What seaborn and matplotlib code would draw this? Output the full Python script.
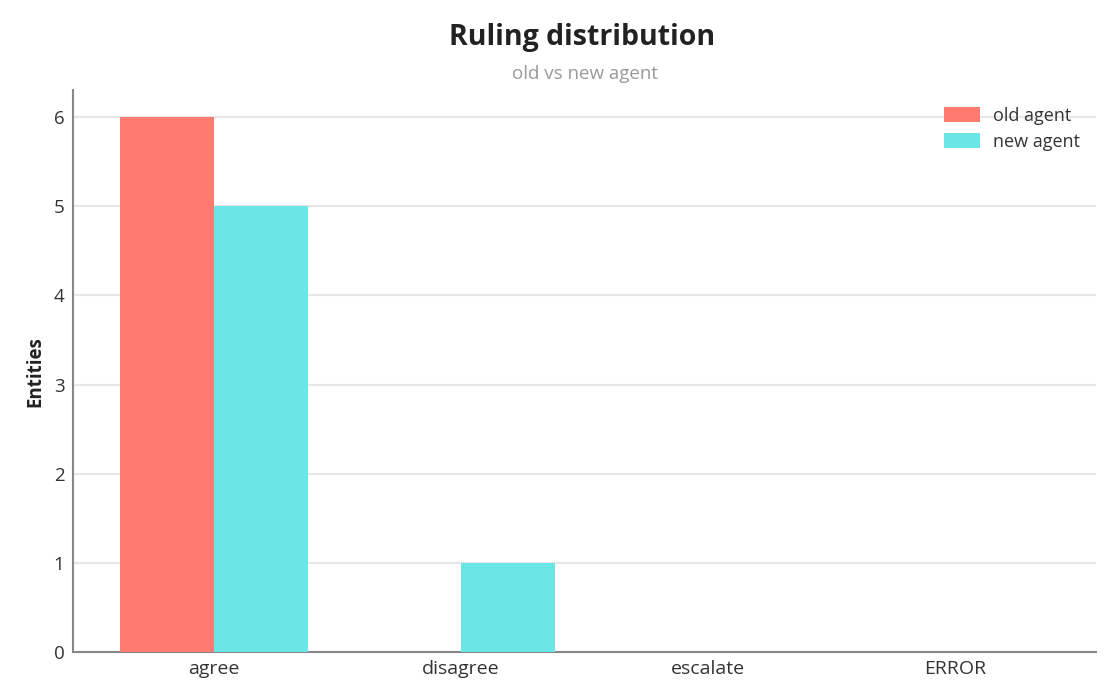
import pandas as pd
import seaborn as sns
import matplotlib.pyplot as plt

# data
categories = ["agree", "disagree", "escalate", "ERROR"]
old_agent = [6, 0, 0, 0]
new_agent = [5, 1, 0, 0]
series_names = ["old agent", "new agent"]
colors = ["#FF7B6F", "#6AE6E6"]

df = pd.DataFrame({
    "ruling": categories * 2,
    "count": old_agent + new_agent,
    "agent": [series_names[0]] * 4 + [series_names[1]] * 4,
})

sns.set_theme(style="white")
plt.rcParams["font.family"] = ["Open Sans", "DejaVu Sans"]

fig = plt.figure(figsize=(11.2, 7), dpi=100)
ax = fig.add_axes([0.065, 0.0686, 0.914, 0.8024])

sns.barplot(data=df, x="ruling", y="count", hue="agent", order=categories,
            hue_order=series_names, palette=colors, width=0.76, gap=0,
            saturation=1, linewidth=0, ax=ax, zorder=3)

ax.set_ylim(0, 6.3)
ax.set_xlim(-0.57, 3.57)
ax.set_yticks(range(0, 7))
ax.yaxis.grid(True, color="#e6e6e6", linewidth=1.5, zorder=0)
ax.set_axisbelow(True)
ax.tick_params(axis="both", length=0, colors="#333333", pad=6)
ax.tick_params(axis="x", labelsize=14)
ax.tick_params(axis="y", labelsize=13.5)

for side in ["top", "right"]:
    ax.spines[side].set_visible(False)
for side in ["left", "bottom"]:
    ax.spines[side].set_color("#888888")
    ax.spines[side].set_linewidth(1.5)

ax.set_xlabel("")
ax.set_ylabel("Entities", fontsize=13.5, fontweight="bold", color="#222222", labelpad=6)

fig.text(0.52, 0.946, "Ruling distribution", ha="center", va="center",
         fontsize=20.5, fontweight="bold", color="#222222")
fig.text(0.522, 0.894, "old vs new agent", ha="center", va="center",
         fontsize=13.5, color="#999999")

leg = ax.legend(loc="upper right", frameon=False, fontsize=13,
                handlelength=1.95, handleheight=0.95, handletextpad=0.75,
                labelspacing=0.45, bbox_to_anchor=(1.0, 1.0))
for t in leg.get_texts():
    t.set_color("#333333")

fig.savefig("out.png", dpi=100)
